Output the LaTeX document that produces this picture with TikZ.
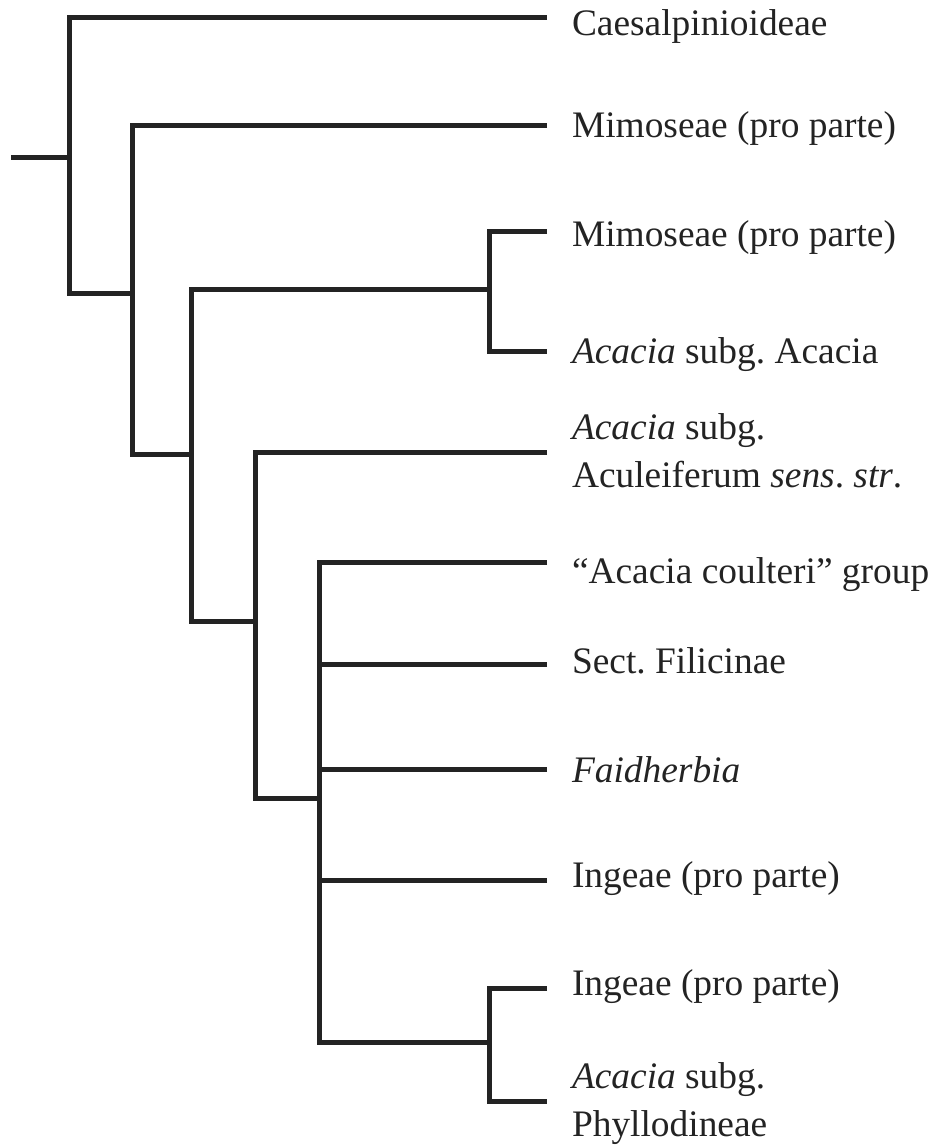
\documentclass[tikz,border=0pt]{standalone}
\usepackage{fontspec}
\setmainfont{Liberation Serif}
\definecolor{ink}{RGB}{35,35,35}
\frenchspacing
\begin{document}
\begin{tikzpicture}[x=1pt,y=-1pt,
  branch/.style={draw=ink,line width=5pt,line join=miter,line cap=butt},
  leaf/.style={anchor=base west,inner sep=0pt,outer sep=0pt,text=ink,
    font=\fontsize{37.4}{48}\selectfont\frenchspacing}]
\useasboundingbox (0,0) rectangle (936,1145);
% tips
\coordinate (t1) at (547,18);
\coordinate (t2) at (547,126);
\coordinate (t3) at (547,231);
\coordinate (t4) at (547,351);
\coordinate (t5) at (547,452);
\coordinate (t6) at (547,562);
\coordinate (t7) at (547,664);
\coordinate (t8) at (547,769);
\coordinate (t9) at (547,880);
\coordinate (t10) at (547,988);
\coordinate (t11) at (547,1101);
% internal nodes
\coordinate (root) at (11,157);
\coordinate (n1) at (69,157);
\coordinate (n2) at (132,293);
\coordinate (n3) at (191,454);
\coordinate (n3a) at (489,289);
\coordinate (n4) at (255,621);
\coordinate (n5) at (319,798);
\coordinate (n6) at (489,1042);
% branches
\draw[branch] (root) -- (n1);
\draw[branch] (t1) -| (n1) |- (n2);
\draw[branch] (t2) -| (n2) |- (n3);
\draw[branch] (n3a) -| (n3) |- (n4);
\draw[branch] (t3) -| (n3a) |- (t4);
\draw[branch] (t5) -| (n4) |- (n5);
\draw[branch] (t6) -| (n5) |- (n6);
\draw[branch] (t7) -- (t7 -| n5);
\draw[branch] (t8) -- (t8 -| n5);
\draw[branch] (t9) -- (t9 -| n5);
\draw[branch] (t10) -| (n6) |- (t11);
% labels
\node[leaf] (l1) at (572,36) {Caesalpinioideae};
\node[leaf] (l2) at (572,138) {Mimoseae (pro parte)};
\node[leaf] (l3) at (572,246) {Mimoseae (pro parte)};
\node[leaf] (l4) at (572,363) {\textit{Acacia} subg. Acacia};
\node[leaf] (l5) at (572,439) {\vtop{\baselineskip=48pt\hbox{\textit{Acacia} subg.}\hbox{Aculeiferum \textit{sens}. \textit{str}.}}};
\node[leaf] (l6) at (572,583) {``Acacia coulteri'' group};
\node[leaf] (l7) at (572,673) {Sect. Filicinae};
\node[leaf] (l8) at (572,782) {\textit{Faidherbia}};
\node[leaf] (l9) at (572,887) {Ingeae (pro parte)};
\node[leaf] (l10) at (572,995) {Ingeae (pro parte)};
\node[leaf] (l11) at (572,1088) {\vtop{\baselineskip=48pt\hbox{\textit{Acacia} subg.}\hbox{Phyllodineae}}};
\end{tikzpicture}
\end{document}
